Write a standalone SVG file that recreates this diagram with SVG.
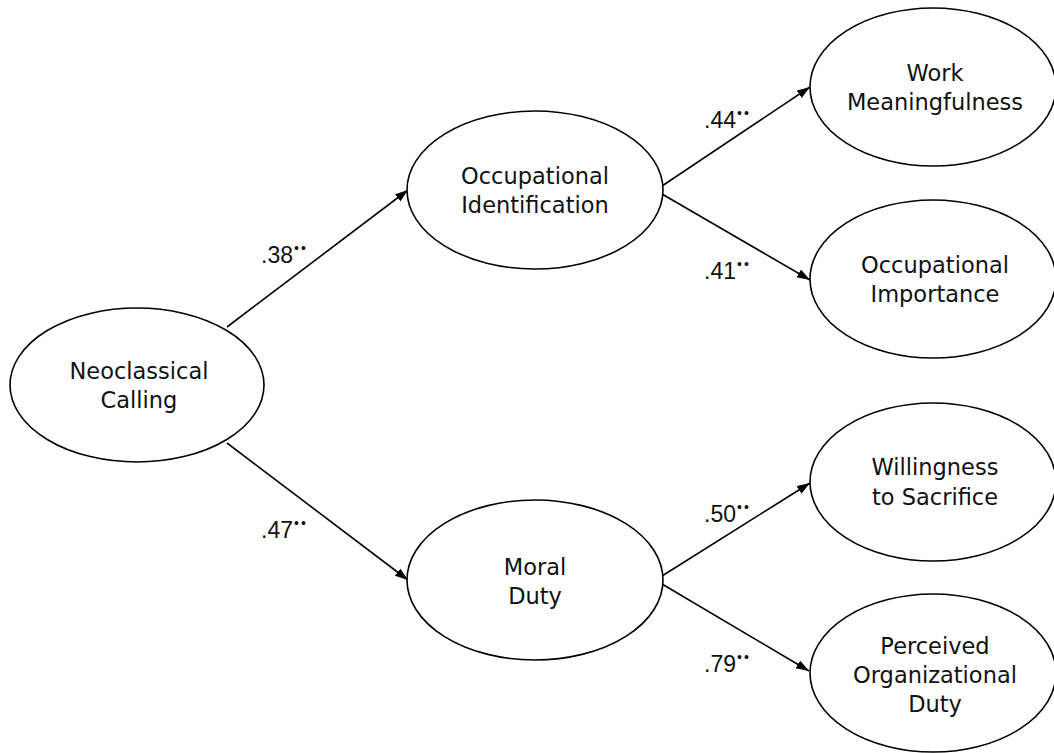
<svg xmlns="http://www.w3.org/2000/svg" width="1054" height="753" viewBox="0 0 1054 753">
<style>
.node ellipse{fill:#fff;stroke:#000;stroke-width:1.6}
.node text{font-family:"DejaVu Sans","Liberation Sans",sans-serif;font-size:22.5px;fill:#111;text-anchor:middle}
.conn line{stroke:#000;stroke-width:1.6;marker-end:url(#arr)}
.lbl{font-family:"Liberation Sans",Arial,sans-serif;font-size:23px;fill:#111}
.sig{font-size:14px;letter-spacing:2px}
</style>
<defs>
<marker id="arr" markerUnits="userSpaceOnUse" markerWidth="14" markerHeight="10" refX="13" refY="4.5" orient="auto">
<path d="M0,0 L13,4.5 L0,9 z" fill="#000"/>
</marker>
</defs>
<rect width="1054" height="753" fill="#fff"/>
<g id="connectors" class="conn">
<line x1="227" y1="327" x2="408" y2="190"/>
<line x1="227" y1="443" x2="408" y2="580"/>
<line x1="662" y1="186" x2="810" y2="87"/>
<line x1="662" y1="194" x2="810" y2="280"/>
<line x1="662" y1="576" x2="810" y2="483"/>
<line x1="662" y1="584" x2="809" y2="671"/>
</g>
<g id="labels" class="lbl">
<text x="261" y="263">.38<tspan class="sig" dx="1" dy="-10">••</tspan></text>
<text x="261" y="538">.47<tspan class="sig" dx="1" dy="-10">••</tspan></text>
<text x="704" y="128">.44<tspan class="sig" dx="1" dy="-10">••</tspan></text>
<text x="704" y="279">.41<tspan class="sig" dx="1" dy="-10">••</tspan></text>
<text x="704" y="522">.50<tspan class="sig" dx="1" dy="-10">••</tspan></text>
<text x="704" y="672">.79<tspan class="sig" dx="1" dy="-10">••</tspan></text>
</g>
<g id="neoclassical-calling" class="node">
<ellipse cx="137" cy="385" rx="127" ry="77"/>
<text x="139" y="379">Neoclassical</text>
<text x="139" y="408">Calling</text>
</g>
<g id="occupational-identification" class="node">
<ellipse cx="535" cy="190" rx="128" ry="79"/>
<text x="535" y="184">Occupational</text>
<text x="535" y="213">Identification</text>
</g>
<g id="moral-duty" class="node">
<ellipse cx="535" cy="580" rx="128" ry="80"/>
<text x="535" y="575">Moral</text>
<text x="535" y="604">Duty</text>
</g>
<g id="work-meaningfulness" class="node">
<ellipse cx="933" cy="87" rx="123" ry="79"/>
<text x="935" y="81">Work</text>
<text x="935" y="110">Meaningfulness</text>
</g>
<g id="occupational-importance" class="node">
<ellipse cx="933" cy="279" rx="123" ry="79"/>
<text x="935" y="273">Occupational</text>
<text x="935" y="302">Importance</text>
</g>
<g id="willingness-to-sacrifice" class="node">
<ellipse cx="933" cy="482" rx="123" ry="79"/>
<text x="935" y="475">Willingness</text>
<text x="935" y="505">to Sacrifice</text>
</g>
<g id="perceived-organizational-duty" class="node">
<ellipse cx="933" cy="673" rx="123" ry="79"/>
<text x="935" y="654">Perceived</text>
<text x="935" y="683">Organizational</text>
<text x="935" y="712">Duty</text>
</g>
</svg>
